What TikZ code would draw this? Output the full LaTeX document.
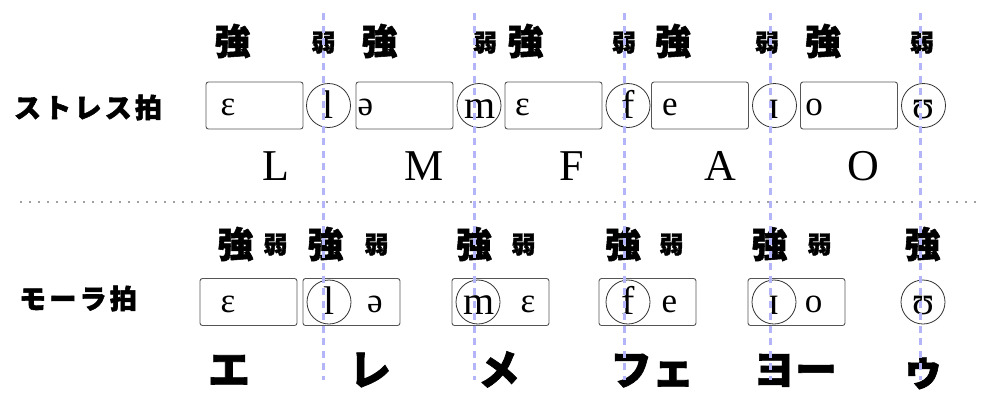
\documentclass[tikz,border=0pt]{standalone}
\usepackage{fontspec}
\setmainfont{Liberation Serif}
\newfontfamily\jp{Noto Sans CJK JP}[BoldFeatures={FakeBold=1.5}]
\newfontfamily\jplabel{Noto Sans CJK JP}[BoldFeatures={FakeBold=2}, LetterSpace=12]
\definecolor{guideblue}{RGB}{180,180,248}
\definecolor{boxgray}{RGB}{85,85,85}
\definecolor{dotgray}{RGB}{160,160,160}
\tikzset{
 tbox/.style={draw=boxgray, rounded corners=2.5pt, minimum width=97pt, minimum height=47pt, inner sep=0pt, line width=0.9pt},
 pcirc/.style={draw=black!80, circle, minimum size=44pt, inner sep=0pt, line width=0.8pt},
 bigph/.style={anchor=base, inner sep=0pt, font=\fontsize{40}{48}\selectfont},
 smph/.style={anchor=base, inner sep=0pt, font=\fontsize{35}{40}\selectfont},
 strong/.style={inner sep=0pt, font=\jp\bfseries\fontsize{36}{40}\selectfont},
 weak/.style={inner sep=0pt, font=\jp\bfseries\fontsize{24}{28}\selectfont},
 latin/.style={anchor=base, inner sep=0pt, font=\fontsize{44}{50}\selectfont},
 kana/.style={anchor=base, inner sep=0pt, font=\jp\bfseries\fontsize{42}{46}\selectfont},
 rowlabel/.style={inner sep=0pt, font=\jplabel\bfseries\fontsize{27}{32}\selectfont},
 guide/.style={draw=guideblue, line width=3pt, dash pattern=on 7pt off 5.5pt},
 sepline/.style={draw=dotgray, line width=1.8pt, dash pattern=on 1.8pt off 7.2pt},
}
\begin{document}
\begin{tikzpicture}[x=1pt,y=-1pt]
\useasboundingbox (0,0) rectangle (1000,400);
% row labels
\node[rowlabel] (lab1) at (88,107.5) {ストレス拍};
\node[rowlabel] (lab2) at (78,298.5) {モーラ拍};
% separator
\coordinate (sepL) at (20,202);
\coordinate (sepR) at (976,202);
\draw[sepline] (sepL) -- (sepR);
% ---------- top row ----------
\node[strong] (ts1) at (232.5,41) {強};
\node[strong] (ts2) at (379.5,41) {強};
\node[strong] (ts3) at (525.5,41) {強};
\node[strong] (ts4) at (673,41) {強};
\node[strong] (ts5) at (823,41) {強};
\node[weak] (tw1) at (323.5,42.5) {弱};
\node[weak] (tw2) at (485,42.5) {弱};
\node[weak] (tw3) at (624,42.5) {弱};
\node[weak] (tw4) at (767,42.5) {弱};
\node[weak] (tw5) at (922,42.5) {弱};
\node[tbox] (tb1) at (254.5,105.5) {};
\node[tbox] (tb2) at (404.5,105.5) {};
\node[tbox] (tb3) at (553.5,105.5) {};
\node[tbox] (tb4) at (700,105.5) {};
\node[tbox] (tb5) at (849,105.5) {};
\node[pcirc] (tc1) at (328.5,105.5) {};
\node[pcirc] (tc2) at (479,105.5) {};
\node[pcirc] (tc3) at (628,105.5) {};
\node[pcirc] (tc4) at (774.5,105.5) {};
\node[pcirc] (tc5) at (923.5,105.5) {};
\node[smph] (tv1) at (228,115.5) {ɛ};
\node[smph] (tv2) at (365.5,115.5) {ə};
\node[smph] (tv3) at (522.5,115.5) {ɛ};
\node[smph] (tv4) at (670,115.5) {e};
\node[smph] (tv5) at (814,115.5) {o};
\node[bigph] (tl1) at (328.5,118) {l};
\node[bigph] (tl2) at (480,118) {m};
\node[bigph] (tl3) at (628,118) {f};
\node[bigph] (tl4) at (774.5,118) {ɪ};
\node[bigph] (tl5) at (923.5,118) {ʊ};
\node[latin] (L1) at (276,180) {L};
\node[latin] (L2) at (424,180) {M};
\node[latin] (L3) at (572,180) {F};
\node[latin] (L4) at (720.5,180) {A};
\node[latin] (L5) at (863.5,180) {O};
% ---------- bottom row ----------
\node[strong] (bs1) at (235.5,244) {強};
\node[strong] (bs2) at (325.5,244) {強};
\node[strong] (bs3) at (474,244) {強};
\node[strong] (bs4) at (623,244) {強};
\node[strong] (bs5) at (769.5,244) {強};
\node[strong] (bs6) at (922.5,244) {強};
\node[weak] (bw1) at (275.5,244.5) {弱};
\node[weak] (bw2) at (376.5,244.5) {弱};
\node[weak] (bw3) at (523.5,244.5) {弱};
\node[weak] (bw4) at (671.5,244.5) {弱};
\node[weak] (bw5) at (819.5,244.5) {弱};
\node[tbox] (bb1) at (248.5,302) {};
\node[tbox] (bb2) at (351.5,302) {};
\node[tbox] (bb3) at (500.5,302) {};
\node[tbox] (bb4) at (647.5,302) {};
\node[tbox] (bb5) at (796.5,302) {};
\node[pcirc] (bc1) at (329,302) {};
\node[pcirc] (bc2) at (478,302) {};
\node[pcirc] (bc3) at (628,302) {};
\node[pcirc] (bc4) at (774,302) {};
\node[pcirc] (bc5) at (923,302) {};
\node[smph] (bv1) at (228,312) {ɛ};
\node[smph] (bv2) at (375,312) {ə};
\node[smph] (bv3) at (528,312) {ɛ};
\node[smph] (bv4) at (669.5,312) {e};
\node[smph] (bv5) at (813.5,312) {o};
\node[bigph] (bl1) at (329,314.5) {l};
\node[bigph] (bl2) at (479,314.5) {m};
\node[bigph] (bl3) at (628,314.5) {f};
\node[bigph] (bl4) at (774,314.5) {ɪ};
\node[bigph] (bl5) at (923,314.5) {ʊ};
\node[kana] (k1) at (229,385) {エ};
\node[kana] (k2) at (370,385) {レ};
\node[kana] (k3) at (499,385) {メ};
\node[kana] (k4) at (652,385) {フェ};
\node[kana] (k5) at (795,385) {ヨー};
\node[kana] (k6) at (923,385) {ゥ};
% ---------- guides ----------
\foreach \i/\gx in {1/323.3,2/474,3/624,4/770,5/920}{
  \coordinate (gt\i) at (\gx,13);
  \coordinate (gb\i) at (\gx,380);
  \draw[guide] (gt\i) -- (gb\i);
}
\end{tikzpicture}
\end{document}
